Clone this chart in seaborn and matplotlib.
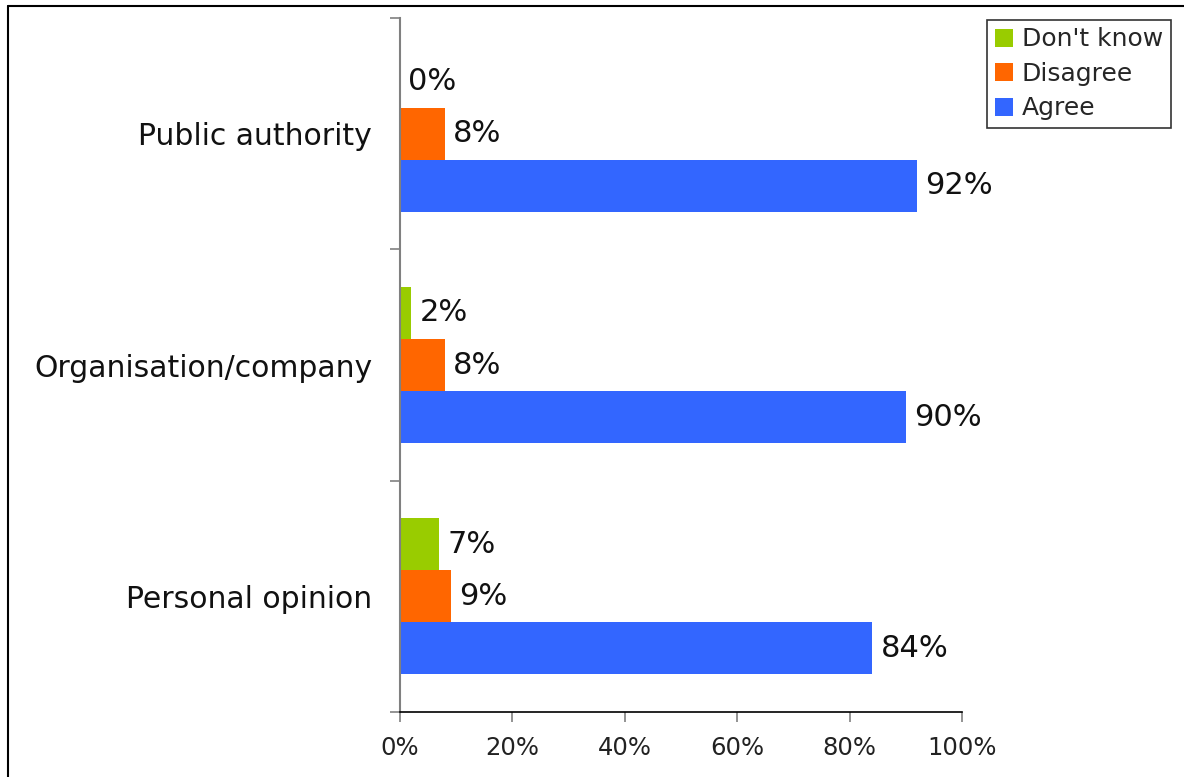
import matplotlib
matplotlib.use("Agg")
import matplotlib.pyplot as plt
from matplotlib.lines import Line2D
from matplotlib.ticker import FixedLocator
import pandas as pd
import seaborn as sns

# Survey responses by type of respondent (% of answers)
categories = ["Public authority", "Organisation/company", "Personal opinion"]
agree = [92, 90, 84]
disagree = [8, 8, 9]
dont_know = [0, 2, 7]
series_names = ["Don't know", "Disagree", "Agree"]
x_ticks = [0, 20, 40, 60, 80, 100]
x_tick_labels = ["0%", "20%", "40%", "60%", "80%", "100%"]

colors = {"Don't know": "#99CC00", "Disagree": "#FF6600", "Agree": "#3366FF"}

rows = []
for cat, a, d, k in zip(categories, agree, disagree, dont_know):
    rows.append({"category": cat, "response": "Agree", "pct": a})
    rows.append({"category": cat, "response": "Disagree", "pct": d})
    rows.append({"category": cat, "response": "Don't know", "pct": k})
df = pd.DataFrame(rows)

sns.set_theme(style="white")
plt.rcParams["font.family"] = ["DejaVu Sans"]

fig = plt.figure(figsize=(11.84, 7.77), dpi=100)
ax = fig.add_axes([400 / 1184, 1 - 712 / 777, 562 / 1184, 694 / 777])

sns.barplot(
    data=df, y="category", x="pct", hue="response",
    order=categories, hue_order=series_names,
    palette=colors, orient="h", width=0.675, saturation=1,
    linewidth=0, ax=ax, legend=False,
)

ax.set_xlim(0, 100)
ax.set_ylim(2.5, -0.5)
ax.set_xlabel("")
ax.set_ylabel("")

# value labels at the end of every bar
for container in ax.containers:
    ax.bar_label(container, labels=[f"{v:.0f}%" for v in container.datavalues],
                 padding=6, fontsize=22, color="#111111")

# x axis
ax.set_xticks(x_ticks)
ax.set_xticklabels(x_tick_labels, fontsize=17.5, color="#222222")
ax.tick_params(axis="x", direction="out", length=7, width=1.2, color="#808080",
               pad=10, bottom=True)

# y axis: category names without marks, marks at the group boundaries
ax.tick_params(axis="y", which="major", length=0, pad=20, labelsize=21.5,
               labelcolor="#111111")
ax.yaxis.set_minor_locator(FixedLocator([-0.5, 0.5, 1.5, 2.5]))
ax.tick_params(axis="y", which="minor", direction="out", length=7, width=1.2,
               color="#808080", left=True)

for side in ["top", "right"]:
    ax.spines[side].set_visible(False)
ax.spines["left"].set_color("#808080")
ax.spines["left"].set_linewidth(1.5)
ax.spines["bottom"].set_color("#000000")
ax.spines["bottom"].set_linewidth(1.2)

# legend
handles = [Line2D([0], [0], marker="s", linestyle="none", markersize=12.5,
                  markerfacecolor=colors[n], markeredgewidth=0)
           for n in series_names]
leg = fig.legend(handles, series_names, loc="upper left",
                 bbox_to_anchor=(987 / 1184, 1 - 20 / 777),
                 frameon=True, fancybox=False, fontsize=18,
                 handlelength=0.75, handletextpad=0.35, labelspacing=0.42,
                 borderpad=0.3, borderaxespad=0)
leg.get_frame().set_edgecolor("#000000")
leg.get_frame().set_linewidth(1.2)

# outer frame lines (left and top)
fig.add_artist(Line2D([8 / 1184, 8 / 1184], [0, 1 - 6 / 777],
                      transform=fig.transFigure, color="#000000", linewidth=1.5))
fig.add_artist(Line2D([8 / 1184, 1], [1 - 6 / 777, 1 - 6 / 777],
                      transform=fig.transFigure, color="#000000", linewidth=1.5))

fig.savefig("out.png", dpi=100, facecolor="white")
